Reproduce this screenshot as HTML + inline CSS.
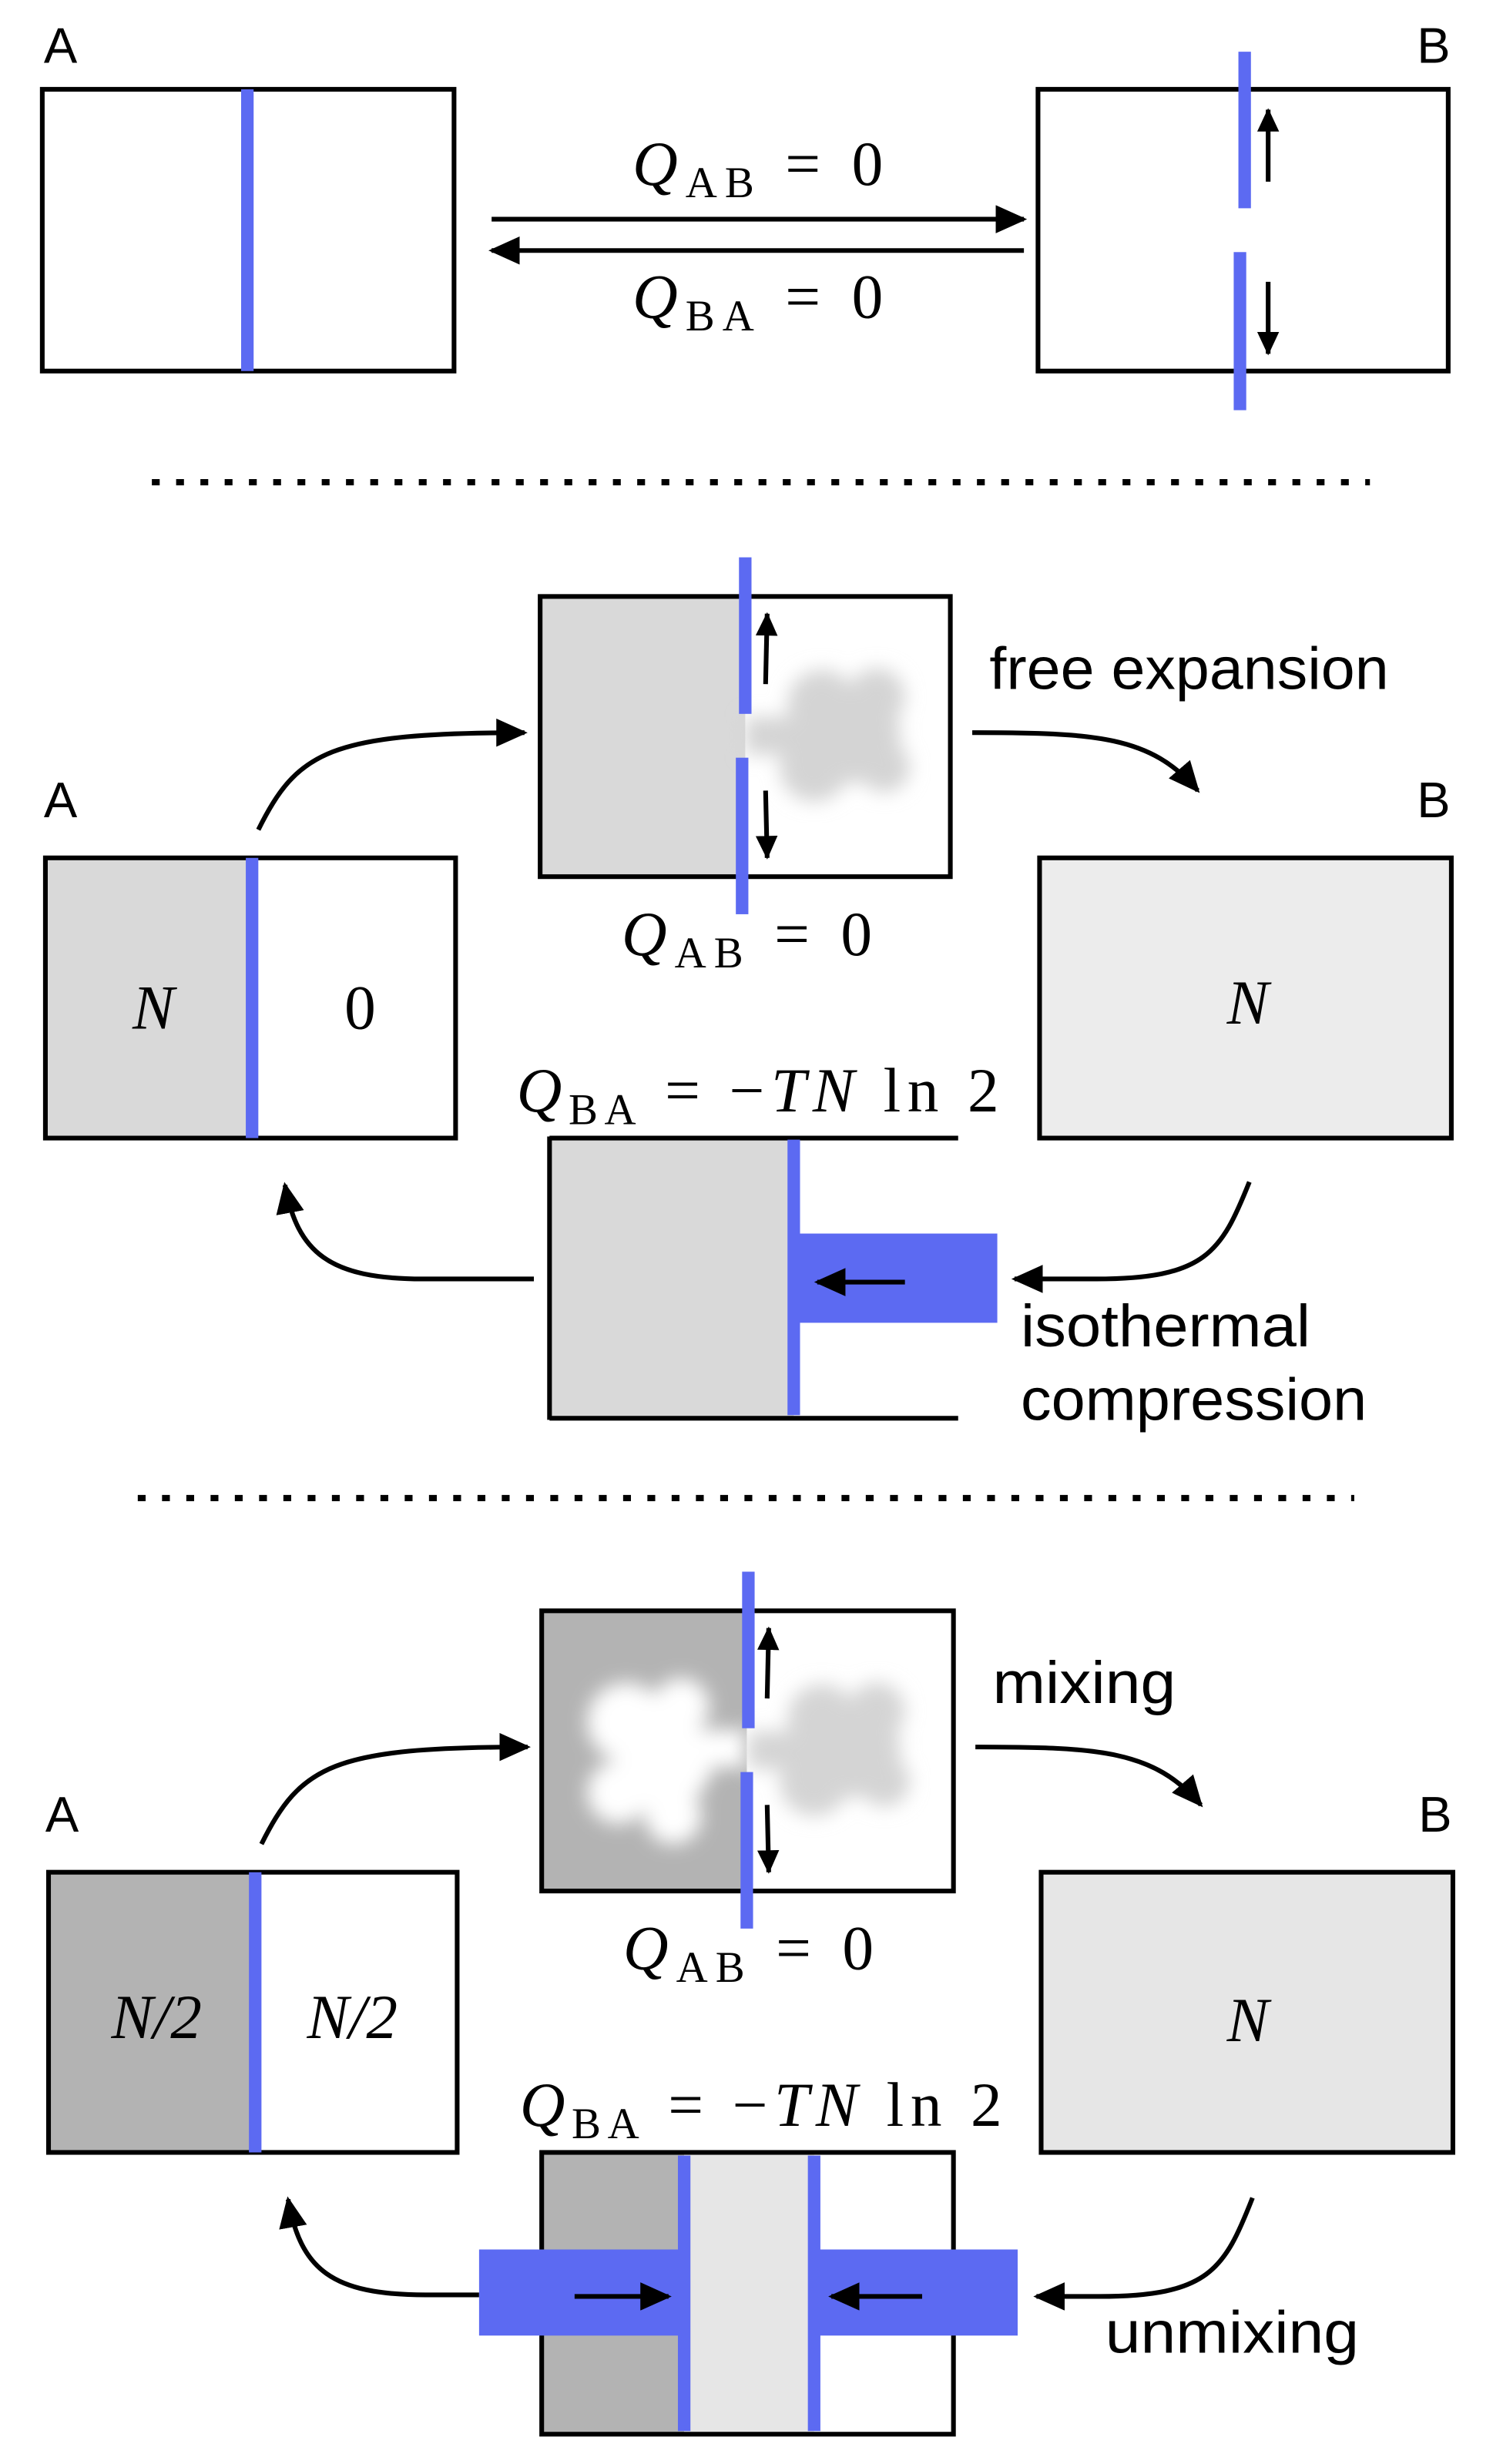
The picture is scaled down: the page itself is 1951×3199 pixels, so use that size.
<!DOCTYPE html>
<html><head><meta charset="utf-8"><style>html,body{margin:0;padding:0;background:#fff}svg{display:block}
.s{font-family:"Liberation Sans",sans-serif;font-size:38px}
.m{font-family:"Liberation Serif",serif;font-size:40px}
.i{font-style:italic}
</style></head><body>
<svg xmlns="http://www.w3.org/2000/svg" width="1951" height="3199" viewBox="0 0 960 1574">
<defs>
<marker id="ah" markerUnits="userSpaceOnUse" markerWidth="22" markerHeight="18" refX="18" refY="9" orient="auto"><path d="M0,0 L20,9 L0,18 Z" fill="#000"/></marker>
<marker id="sh" markerUnits="userSpaceOnUse" markerWidth="16" markerHeight="14" refX="14" refY="7" orient="auto"><path d="M0,0 L15,7 L0,14 Z" fill="#000"/></marker>
<filter id="bl" x="-50%" y="-50%" width="200%" height="200%"><feGaussianBlur stdDeviation="6"/></filter>
</defs>
<g fill="none" stroke="#000" stroke-width="3">
<rect x="27" y="57" width="263" height="180" fill="#fff"/>
<rect x="663" y="57" width="262" height="180" fill="#fff"/>
</g>
<text x="28" y="40" class="s" style="font-size:32px">A</text>
<text x="905" y="40" class="s" style="font-size:32px">B</text>
<rect x="154" y="57" width="8" height="180" fill="#5c6af2"/>
<rect x="791" y="33" width="8" height="100" fill="#5c6af2"/>
<rect x="788" y="161" width="8" height="101" fill="#5c6af2"/>
<g stroke="#000" stroke-width="3" fill="none">
<line x1="810" y1="116" x2="810" y2="70" marker-end="url(#sh)"/>
<line x1="810" y1="180" x2="810" y2="226" marker-end="url(#sh)"/>
<line x1="314" y1="140" x2="654" y2="140" marker-end="url(#ah)"/>
<line x1="654" y1="160" x2="314" y2="160" marker-end="url(#ah)"/>
</g>
<text x="404" y="118" class="m" textLength="160" lengthAdjust="spacing"><tspan class="i">Q</tspan><tspan font-size="28" dy="8">AB</tspan><tspan dy="-8"> = 0</tspan></text>
<text x="404" y="203" class="m" textLength="160" lengthAdjust="spacing"><tspan class="i">Q</tspan><tspan font-size="28" dy="8">BA</tspan><tspan dy="-8"> = 0</tspan></text>
<line x1="97" y1="308" x2="875" y2="308" stroke="#000" stroke-width="4" stroke-dasharray="5,10.5"/>

<rect x="345" y="381" width="131" height="179" fill="#d9d9d9"/>
<g filter="url(#bl)" fill="#d4d4d4"><circle cx="525" cy="450" r="22"/><circle cx="545" cy="470" r="30"/><circle cx="520" cy="490" r="22"/><circle cx="560" cy="445" r="18"/><circle cx="565" cy="490" r="16"/><rect x="476" y="458" width="40" height="24"/></g>
<rect x="345" y="381" width="262" height="179" fill="none" stroke="#000" stroke-width="3"/>
<rect x="472" y="356" width="8" height="100" fill="#5c6af2"/>
<rect x="470" y="484" width="8" height="100" fill="#5c6af2"/>
<g stroke="#000" stroke-width="3" fill="none">
<line x1="489" y1="437" x2="490" y2="392" marker-end="url(#sh)"/>
<line x1="489" y1="505" x2="490" y2="548" marker-end="url(#sh)"/>
<path d="M165 530 C 190 480, 210 468, 335 468" marker-end="url(#ah)"/>
<path d="M621 468 C 700 468, 735 470, 765 505" marker-end="url(#ah)"/>
<path d="M798 755 C 780 800, 770 817, 700 817 L 648 817" marker-end="url(#ah)"/>
<path d="M341 817 L 270 817 C 210 817, 190 800, 182 757" marker-end="url(#ah)"/>
</g>
<text x="632" y="440" class="s" textLength="255" lengthAdjust="spacingAndGlyphs">free expansion</text>
<text x="28" y="522" class="s" style="font-size:32px">A</text>
<text x="905" y="522" class="s" style="font-size:32px">B</text>
<rect x="29" y="548" width="132" height="179" fill="#d9d9d9"/>
<rect x="29" y="548" width="262" height="179" fill="none" stroke="#000" stroke-width="3"/>
<rect x="157" y="548" width="8" height="179" fill="#5c6af2"/>
<text x="98" y="657" class="m i" font-size="56" text-anchor="middle">N</text>
<text x="230" y="657" class="m" font-size="56" text-anchor="middle">0</text>
<text x="397" y="610" class="m" textLength="160" lengthAdjust="spacing"><tspan class="i">Q</tspan><tspan font-size="28" dy="8">AB</tspan><tspan dy="-8"> = 0</tspan></text>
<rect x="664" y="548" width="263" height="179" fill="#ececec" stroke="#000" stroke-width="3"/>
<text x="797" y="654" class="m i" font-size="56" text-anchor="middle">N</text>
<text x="330" y="710" class="m" textLength="308" lengthAdjust="spacing"><tspan class="i">Q</tspan><tspan font-size="28" dy="8">BA</tspan><tspan dy="-8"> = −</tspan><tspan class="i">TN</tspan><tspan> ln 2</tspan></text>
<rect x="351" y="727" width="156" height="179" fill="#d9d9d9"/>
<g stroke="#000" stroke-width="3"><line x1="351" y1="727" x2="612" y2="727"/><line x1="351" y1="906" x2="612" y2="906"/><line x1="351" y1="726" x2="351" y2="907"/></g>
<rect x="503" y="728" width="8" height="176" fill="#5c6af2"/>
<rect x="507" y="788" width="130" height="57" fill="#5c6af2"/>
<line x1="578" y1="819" x2="522" y2="819" stroke="#000" stroke-width="3" marker-end="url(#ah)"/>
<text x="652" y="860" class="s" textLength="185" lengthAdjust="spacingAndGlyphs">isothermal</text>
<text x="652" y="907" class="s" textLength="221" lengthAdjust="spacingAndGlyphs">compression</text>
<line x1="88" y1="957" x2="865" y2="957" stroke="#000" stroke-width="4" stroke-dasharray="5,10.5"/>

<rect x="346" y="1029" width="131" height="179" fill="#b3b3b3"/>
<g filter="url(#bl)" fill="#fff"><circle cx="400" cy="1100" r="25"/><circle cx="425" cy="1125" r="30"/><circle cx="395" cy="1145" r="20"/><circle cx="435" cy="1090" r="18"/><circle cx="430" cy="1160" r="18"/><rect x="440" y="1105" width="37" height="24"/></g>
<g filter="url(#bl)" fill="#d4d4d4"><circle cx="525" cy="1098" r="22"/><circle cx="545" cy="1118" r="30"/><circle cx="520" cy="1138" r="22"/><circle cx="560" cy="1093" r="18"/><circle cx="565" cy="1138" r="16"/><rect x="478" y="1106" width="40" height="24"/></g>
<rect x="346" y="1029" width="263" height="179" fill="none" stroke="#000" stroke-width="3"/>
<rect x="474" y="1004" width="8" height="100" fill="#5c6af2"/>
<rect x="473" y="1132" width="8" height="100" fill="#5c6af2"/>
<g stroke="#000" stroke-width="3" fill="none">
<line x1="490" y1="1085" x2="491" y2="1040" marker-end="url(#sh)"/>
<line x1="490" y1="1153" x2="491" y2="1196" marker-end="url(#sh)"/>
<path d="M167 1178 C 192 1128, 212 1116, 337 1116" marker-end="url(#ah)"/>
<path d="M623 1116 C 702 1116, 737 1118, 767 1153" marker-end="url(#ah)"/>
<path d="M800 1404 C 782 1450, 772 1467, 702 1467 L 662 1467" marker-end="url(#ah)"/>
<path d="M306 1466 L 272 1466 C 212 1466, 192 1450, 184 1405" marker-end="url(#ah)"/>
</g>
<text x="634" y="1088" class="s" textLength="117" lengthAdjust="spacingAndGlyphs">mixing</text>
<text x="29" y="1170" class="s" style="font-size:32px">A</text>
<text x="906" y="1170" class="s" style="font-size:32px">B</text>
<rect x="31" y="1196" width="131" height="179" fill="#b3b3b3"/>
<rect x="31" y="1196" width="261" height="179" fill="none" stroke="#000" stroke-width="3"/>
<rect x="159" y="1196" width="8" height="179" fill="#5c6af2"/>
<text x="100" y="1302" class="m i" font-size="46" text-anchor="middle">N/2</text>
<text x="225" y="1302" class="m i" font-size="46" text-anchor="middle">N/2</text>
<text x="398" y="1258" class="m" textLength="160" lengthAdjust="spacing"><tspan class="i">Q</tspan><tspan font-size="28" dy="8">AB</tspan><tspan dy="-8"> = 0</tspan></text>
<rect x="665" y="1196" width="263" height="179" fill="#e6e6e6" stroke="#000" stroke-width="3"/>
<text x="797" y="1304" class="m i" font-size="56" text-anchor="middle">N</text>
<text x="332" y="1358" class="m" textLength="308" lengthAdjust="spacing"><tspan class="i">Q</tspan><tspan font-size="28" dy="8">BA</tspan><tspan dy="-8"> = −</tspan><tspan class="i">TN</tspan><tspan> ln 2</tspan></text>
<rect x="346" y="1375" width="91" height="180" fill="#b3b3b3"/>
<rect x="437" y="1375" width="83" height="180" fill="#e6e6e6"/>
<rect x="346" y="1375" width="263" height="180" fill="none" stroke="#000" stroke-width="3"/>
<rect x="433" y="1377" width="8" height="176" fill="#5c6af2"/>
<rect x="516" y="1377" width="8" height="176" fill="#5c6af2"/>
<rect x="306" y="1437" width="131" height="55" fill="#5c6af2"/>
<rect x="520" y="1437" width="130" height="55" fill="#5c6af2"/>
<line x1="367" y1="1467" x2="427" y2="1467" stroke="#000" stroke-width="3" marker-end="url(#ah)"/>
<line x1="589" y1="1467" x2="531" y2="1467" stroke="#000" stroke-width="3" marker-end="url(#ah)"/>
<text x="706" y="1503" class="s" textLength="162" lengthAdjust="spacingAndGlyphs">unmixing</text>
</svg>
</body></html>
